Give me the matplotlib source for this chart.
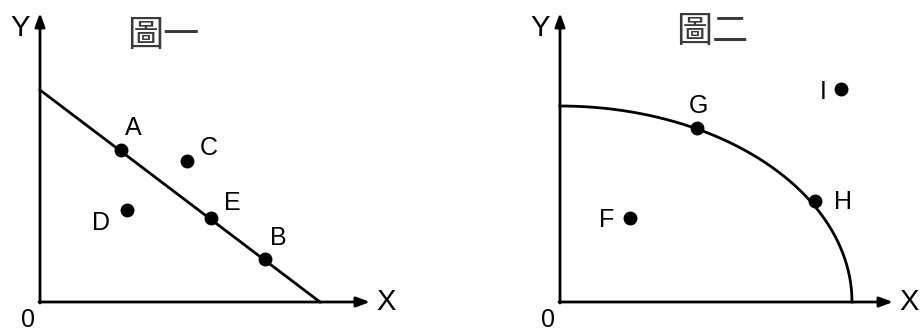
import numpy as np
import matplotlib
matplotlib.use("Agg")
import matplotlib.pyplot as plt

# 圖一: 直線 (預算線) 與各點
line1_x = [0.0, 28.0]
line1_y = [21.2, 0.0]
pts1_names = ["A", "C", "D", "E", "B"]
pts1_x = [8.1, 14.7, 8.7, 17.1, 22.5]
pts1_y = [15.2, 14.1, 9.2, 8.4, 4.3]
lab1_x = [9.3, 16.9, 6.1, 19.2, 23.8]
lab1_y = [17.4, 15.4, 7.9, 9.9, 6.4]

# 圖二: 凹向原點的曲線與各點
curve_a = 29.2
curve_b = 19.6
pts2_names = ["G", "H", "I", "F"]
pts2_x = [13.7, 25.5, 28.1, 7.0]
pts2_y = [17.4, 10.1, 21.3, 8.4]
lab2_x = [13.8, 28.3, 26.3, 4.7]
lab2_y = [19.6, 10.0, 21.0, 8.2]

titles = ["圖一", "圖二"]
title_x = [12.3, 15.2]
title_y = [26.6, 27.0]

LW = 2.0
SANS = ["Liberation Sans", "DejaVu Sans"]
CJK = ["Noto Sans CJK TC", "DejaVu Sans"]


def draw_axes(ax, x_end, y_end):
    # 座標軸帶箭頭
    ax.annotate("", xy=(x_end, 0), xytext=(-0.1, 0),
                arrowprops=dict(arrowstyle="-|>,head_length=0.8,head_width=0.3",
                                color="black", lw=LW, shrinkA=0, shrinkB=0))
    ax.annotate("", xy=(0, y_end), xytext=(0, -0.1),
                arrowprops=dict(arrowstyle="-|>,head_length=0.8,head_width=0.3",
                                color="black", lw=LW, shrinkA=0, shrinkB=0))
    ax.text(x_end + 0.6, 0, "X", fontsize=21, family=SANS, ha="left", va="center")
    ax.text(-1.0, y_end - 1.5, "Y", fontsize=21, family=SANS, ha="right", va="center")
    ax.text(-1.2, -1.8, "0", fontsize=18, family=SANS, ha="center", va="center")


fig = plt.figure(figsize=(9.23, 3.33), dpi=100)
ax1 = fig.add_axes([0, 0, 460 / 923, 1])
ax2 = fig.add_axes([461 / 923, 0, 462 / 923, 1])

ax1.set_xlim(-4.0, 42.0)
ax1.set_ylim(-3.1, 30.2)
ax2.set_xlim(-9.9, 36.3)
ax2.set_ylim(-3.1, 30.2)

# 圖一
draw_axes(ax1, 33.0, 28.9)
ax1.plot(line1_x, line1_y, color="black", lw=LW)
ax1.plot(pts1_x, pts1_y, "o", color="black", ms=9)
for n, x, y in zip(pts1_names, lab1_x, lab1_y):
    ax1.text(x, y, n, fontsize=18, family=SANS, ha="center", va="center")

# 圖二
draw_axes(ax2, 33.3, 28.9)
t = np.linspace(0, np.pi / 2, 200)
ax2.plot(curve_a * np.cos(t), curve_b * np.sin(t), color="black", lw=LW)
ax2.plot(pts2_x, pts2_y, "o", color="black", ms=9)
for n, x, y in zip(pts2_names, lab2_x, lab2_y):
    ax2.text(x, y, n, fontsize=18, family=SANS, ha="center", va="center")

for ax, tt, tx, ty in zip([ax1, ax2], titles, title_x, title_y):
    ax.text(tx, ty, tt, fontsize=26, family=CJK, color="#3a3a3a",
            ha="center", va="center")
    ax.axis("off")

fig.savefig("out.png", dpi=100)
